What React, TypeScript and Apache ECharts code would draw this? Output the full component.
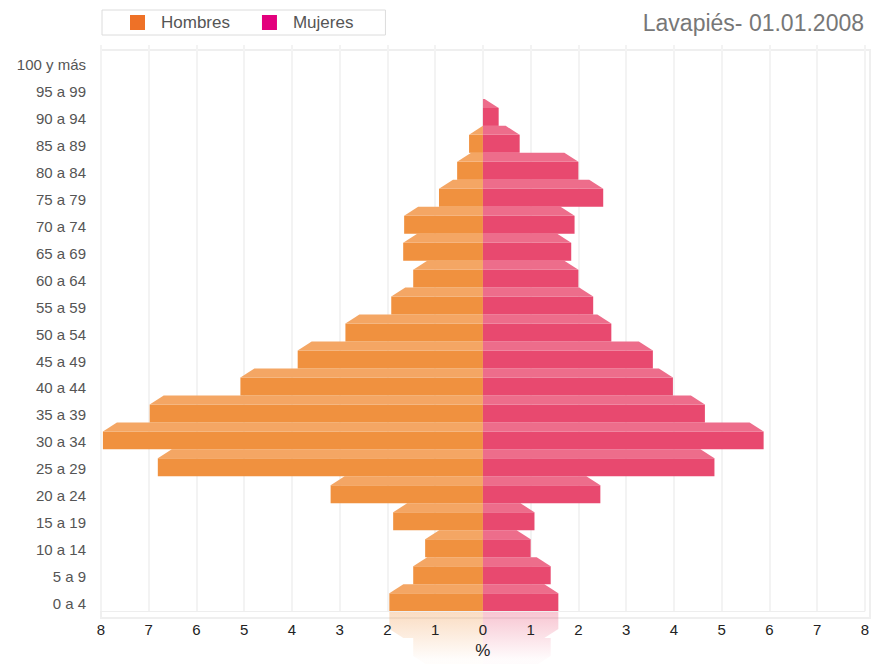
import React, { useEffect, useRef } from 'react';
import * as echarts from 'echarts';

const categories = [
  '0 a 4', '5 a 9', '10 a 14', '15 a 19', '20 a 24', '25 a 29', '30 a 34',
  '35 a 39', '40 a 44', '45 a 49', '50 a 54', '55 a 59', '60 a 64', '65 a 69',
  '70 a 74', '75 a 79', '80 a 84', '85 a 89', '90 a 94', '95 a 99', '100 y más',
];
const hombres = [1.96, 1.46, 1.21, 1.88, 3.19, 6.81, 7.96, 6.98, 5.08, 3.88, 2.88, 1.92, 1.46, 1.67, 1.65, 0.92, 0.54, 0.29, 0, 0, 0];
const mujeres = [1.58, 1.42, 1.0, 1.08, 2.46, 4.85, 5.88, 4.65, 3.98, 3.56, 2.69, 2.31, 2.0, 1.85, 1.92, 2.52, 2.0, 0.77, 0.33, 0, 0];
const title = 'Lavapiés- 01.01.2008';
const xMin = -8;
const xMax = 8;

const FONT = '"Liberation Sans", Arial, Helvetica, sans-serif';
const MEN_FRONT = '#F0913F';
const MEN_TOP = '#F4A664';
const WOM_FRONT = '#E8496F';
const WOM_TOP = '#ED6D8B';
const MEN_RGB = '240,145,63';
const WOM_RGB = '232,73,111';

function geom(api: any, idx: number, v: number) {
  const pv = api.coord([v, idx]);
  const p0 = api.coord([0, idx]);
  const band = api.size([0, 1])[1];
  const yTop = pv[1] - band / 2;
  const yBot = pv[1] + band / 2;
  const yMid = yTop + band / 3;
  const x0 = p0[0];
  const xv = pv[0];
  const len = Math.abs(xv - x0);
  const dir = xv < x0 ? 1 : -1;
  const dx = Math.min(14, len) * dir;
  const rect = { x: Math.min(xv, x0), y: yMid, width: len, height: yBot - yMid };
  const poly = [[xv, yMid], [xv + dx, yTop], [x0, yTop], [x0, yMid]];
  return { rect, poly, band };
}

export default function App() {
  const ref = useRef<HTMLDivElement>(null);
  useEffect(() => {
    document.documentElement.style.overflow = 'hidden';
    document.body.style.margin = '0';
    document.body.style.overflow = 'hidden';
    const chart = echarts.init(ref.current!, null, { renderer: 'svg', width: 872, height: 664 });

    const renderBar = (front: string, top: string) => (params: any, api: any) => {
      const idx = api.value(0);
      const v = api.value(1);
      if (!v) return { type: 'group', children: [] };
      const g = geom(api, idx, v);
      return {
        type: 'group',
        children: [
          { type: 'rect', shape: g.rect, style: { fill: front } },
          { type: 'polygon', shape: { points: g.poly }, style: { fill: top } },
        ],
      };
    };

    const renderRefl = (params: any, api: any) => {
      const idx = api.value(0);
      const v = api.value(1);
      if (!v) return { type: 'group', children: [] };
      const g = geom(api, idx, v);
      const axisY = api.coord([0, 0])[1] + g.band / 2;
      const rgb = v < 0 ? MEN_RGB : WOM_RGB;
      const grad = new echarts.graphic.LinearGradient(0, axisY, 0, axisY + 48, [
        { offset: 0, color: `rgba(${rgb},0.32)` },
        { offset: 1, color: `rgba(${rgb},0.02)` },
      ], true);
      const r = g.rect;
      const mr = { x: r.x, y: 2 * axisY - (r.y + r.height), width: r.width, height: r.height };
      const mp = g.poly.map((p) => [p[0], 2 * axisY - p[1]]);
      return {
        type: 'group',
        children: [
          { type: 'rect', shape: mr, style: { fill: grad } },
          { type: 'polygon', shape: { points: mp }, style: { fill: grad } },
        ],
      };
    };

    const menData = hombres.map((v, i) => [i, -v]);
    const womData = mujeres.map((v, i) => [i, v]);
    const reflData = [...menData.slice(0, 3), ...womData.slice(0, 3)];

    chart.setOption({
      animation: false,
      textStyle: { fontFamily: FONT },
      title: {
        text: title,
        right: 3,
        top: 6,
        textStyle: { fontSize: 23, fontWeight: 'normal', color: '#777', fontFamily: FONT },
      },
      legend: {
        data: ['Hombres', 'Mujeres'],
        left: 102,
        top: 10,
        padding: [4, 32, 4, 28],
        itemGap: 32,
        itemWidth: 15,
        itemHeight: 15,
        icon: 'rect',
        backgroundColor: '#fff',
        borderColor: '#dcdcdc',
        borderWidth: 1,
        selectedMode: false,
        textStyle: { fontSize: 17, color: '#555', fontFamily: FONT, padding: [0, 0, 0, 11] },
      },
      grid: { left: 101, right: 2, top: 45, bottom: 46, containLabel: false },
      graphic: [
        {
          type: 'rect',
          z: -10,
          shape: { x: 101, y: 50, width: 769, height: 568 },
          style: { fill: 'none', stroke: '#efefef', lineWidth: 2 },
        },
      ],
      xAxis: {
        type: 'value',
        min: xMin,
        max: xMax,
        interval: 1,
        name: '%',
        nameLocation: 'middle',
        nameGap: 30,
        nameTextStyle: { fontSize: 17, color: '#222', fontFamily: FONT },
        axisLine: { show: true, lineStyle: { color: '#eeeeee' } },
        axisTick: { show: false },
        axisLabel: {
          fontSize: 15,
          color: '#222',
          margin: 11,
          fontFamily: FONT,
          formatter: (v: number) => String(Math.abs(v)),
        },
        splitLine: { show: true, lineStyle: { color: '#f3f3f3', width: 2 } },
      },
      yAxis: {
        type: 'category',
        data: categories,
        boundaryGap: true,
        axisLine: { show: false },
        axisTick: { show: false },
        splitLine: { show: false },
        axisLabel: {
          fontSize: 15,
          color: '#555',
          margin: 15,
          fontFamily: FONT,
          verticalAlign: 'top',
          lineHeight: 12,
        },
      },
      series: [
        {
          name: 'Hombres',
          type: 'custom',
          silent: true,
          itemStyle: { color: '#EE7127' },
          encode: { x: 1, y: 0 },
          renderItem: renderBar(MEN_FRONT, MEN_TOP),
          data: menData,
          z: 3,
        },
        {
          name: 'Mujeres',
          type: 'custom',
          silent: true,
          itemStyle: { color: '#E3007D' },
          encode: { x: 1, y: 0 },
          renderItem: renderBar(WOM_FRONT, WOM_TOP),
          data: womData,
          z: 3,
        },
        {
          name: 'reflejo',
          type: 'custom',
          silent: true,
          clip: false,
          encode: { x: 1, y: 0 },
          renderItem: renderRefl,
          data: reflData,
          z: -1,
        },
      ],
    });
    return () => chart.dispose();
  }, []);
  return <div ref={ref} style={{ width: 872, height: 664 }} />;
}
